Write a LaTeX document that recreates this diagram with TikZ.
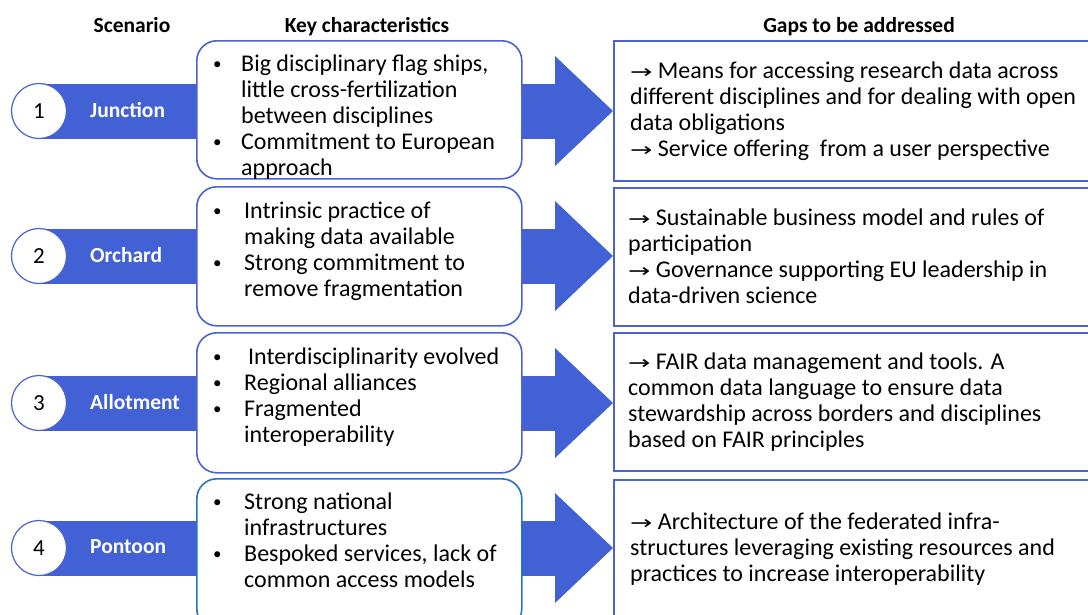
\documentclass[tikz,border=0pt]{standalone}
\usepackage{fontspec}
\setmainfont{Carlito}
\newfontfamily\arrowfont{DejaVu Sans}
\definecolor{bandblue}{RGB}{66,97,212}
\definecolor{boxblue}{RGB}{74,98,212}
\definecolor{boxblueb}{RGB}{40,116,192}
\newcommand{\ar}{{\arrowfont\fontsize{19}{20}\selectfont\scalebox{1.4}[1]{→}}\ }
\newcommand{\bul}{\raisebox{1.5pt}{\fontsize{17}{17}\selectfont\textbullet}}
\tikzset{
  hdr/.style={font=\fontsize{21.5}{24}\selectfont\bfseries, anchor=base, inner sep=0},
  circ/.style={circle, draw=boxblue, line width=1.2pt, fill=white, minimum size=55pt, inner sep=0, font=\fontsize{23}{24}\selectfont},
  lbl/.style={anchor=west, inner sep=0, text=white, font=\fontsize{21.5}{24}\selectfont\bfseries},
  lbox/.style={draw=boxblue, line width=1.6pt, fill=white, rounded corners=20pt, minimum width=325pt, anchor=north west},
  rbox/.style={draw=boxblue, line width=1.6pt, fill=white, minimum width=520pt, anchor=north west},
  ltext/.style={anchor=base west, inner sep=0, font=\fontsize{24}{26}\selectfont},
  rtext/.style={anchor=base west, inner sep=0, font=\fontsize{24}{26}\selectfont},
}
\newcommand{\band}[2]{%
  \fill[bandblue] (38,#1-27.5) rectangle (560,#1+27.5);
  \fill[bandblue] (555,#1-55) -- (613,#1) coordinate (tip#2) -- (555,#1+55) -- cycle;
}
\begin{document}
\begin{tikzpicture}[x=1pt,y=-1pt]
\useasboundingbox (0,0) rectangle (1088,614);
% headers
\node[hdr] (h1) at (132,32) {Scenario};
\node[hdr] (h2) at (367,32) {Key characteristics};
\node[hdr] (h3) at (859,32) {Gaps to be addressed};
% bands
\band{111}{1}
\band{256}{2}
\band{403}{3}
\band{548}{4}
% circles & labels
\node[circ] (c1) at (39,111) {1};
\node[circ] (c2) at (39,256) {2};
\node[circ] (c3) at (39,403) {3};
\node[circ] (c4) at (39,548) {4};
\node[lbl] (l1) at (90,110) {Junction};
\node[lbl] (l2) at (90,255) {Orchard};
\node[lbl] (l3) at (90,402) {Allotment};
\node[lbl] (l4) at (90,547) {Pontoon};
% left boxes
\node[lbox, minimum height=138pt] (k1) at (196,40) {};
\node[lbox, minimum height=139pt] (k2) at (196,186) {};
\node[lbox, minimum height=140pt] (k3) at (196,332) {};
\node[lbox, draw=boxblueb, minimum height=150pt] (k4) at (196,478) {};
% right boxes
\node[rbox, minimum height=140pt] (g1) at (613,40) {};
\node[rbox, minimum height=138pt] (g2) at (613,187) {};
\node[rbox, minimum height=138pt] (g3) at (613,332) {};
\node[rbox, minimum height=150pt] (g4) at (613,479) {};
% left texts
\node[ltext] (t1) at (213,71) {\begin{tabular}[t]{@{}p{28pt}@{}l@{}}
\bul & Big disciplinary flag ships,\\
 & little cross-fertilization\\
 & between disciplines\\
\bul & Commitment to European\\
 & approach
\end{tabular}};
\node[ltext] (t2) at (213,218) {\begin{tabular}[t]{@{}p{31pt}@{}l@{}}
\bul & Intrinsic practice of\\
 & making data available\\
\bul & Strong commitment to\\
 & remove fragmentation
\end{tabular}};
\node[ltext] (t3) at (213,364) {\begin{tabular}[t]{@{}p{31pt}@{}l@{}}
\bul & \hspace{4pt}Interdisciplinarity evolved\\
\bul & Regional alliances\\
\bul & Fragmented\\
 & interoperability
\end{tabular}};
\node[ltext] (t4) at (213,509) {\begin{tabular}[t]{@{}p{31pt}@{}l@{}}
\bul & Strong national\\
 & infrastructures\\
\bul & Bespoked services, lack of\\
 & common access models
\end{tabular}};
% right texts
\node[rtext] (r1) at (630,78) {\begin{tabular}[t]{@{}l@{}}
\ar Means for accessing research data across\\
different disciplines and for dealing with open\\
data obligations\\
\ar Service offering\ \ from a user perspective
\end{tabular}};
\node[rtext] (r2) at (628,225) {\begin{tabular}[t]{@{}l@{}}
\ar Sustainable business model and rules of\\
participation\\
\ar Governance supporting EU leadership in\\
data-driven science
\end{tabular}};
\node[rtext] (r3) at (628,369) {\begin{tabular}[t]{@{}l@{}}
\ar FAIR data management and tools. A\\
common data language to ensure data\\
stewardship across borders and disciplines\\
based on FAIR principles
\end{tabular}};
\node[rtext] (r4) at (630,529) {\begin{tabular}[t]{@{}l@{}}
\ar Architecture of the federated infra-\\
structures leveraging existing resources and\\
practices to increase interoperability
\end{tabular}};
\end{tikzpicture}
\end{document}
